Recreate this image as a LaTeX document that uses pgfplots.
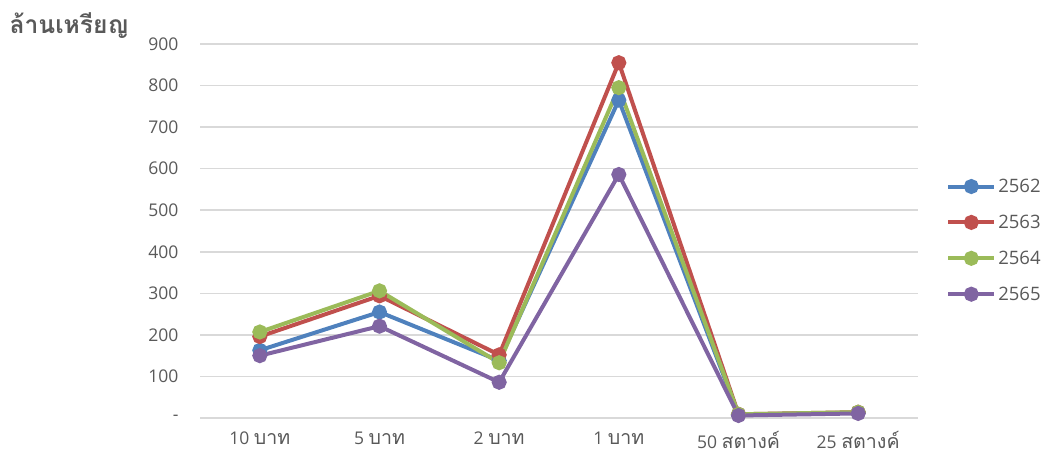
\documentclass[border=0pt]{standalone}
\usepackage{pgfplots}
\pgfplotsset{compat=1.18}
\usepackage{fontspec}
\setmainfont{Open Sans}
\newfontfamily\thaifont[Script=Thai,Scale=1.12]{Loma}
\definecolor{txt}{HTML}{595959}
\definecolor{gridc}{HTML}{D9D9D9}
\definecolor{c1}{HTML}{4F81BD}
\definecolor{c2}{HTML}{C0504D}
\definecolor{c3}{HTML}{9BBB59}
\definecolor{c4}{HTML}{8064A2}
\begin{document}
\begin{tikzpicture}
\useasboundingbox (0,0) rectangle (1053pt,456pt);
\node[anchor=west, text=txt, font=\fontsize{22pt}{26pt}\selectfont\thaifont\bfseries] at (6pt,430pt) {ล้านเหรียญ};
\begin{axis}[
  at={(200pt,38pt)}, anchor=south west,
  scale only axis, width=718pt, height=374pt,
  xmin=-0.5, xmax=5.5, ymin=0, ymax=900,
  xtick={0,1,2,3,4,5},
  xticklabels={{10 {\thaifont บาท}},{5 {\thaifont บาท}},{2 {\thaifont บาท}},{1 {\thaifont บาท}},{50 {\thaifont สตางค์}},{25 {\thaifont สตางค์}}},
  ytick={0,100,...,900},
  yticklabels={-,100,200,300,400,500,600,700,800,900},
  axis line style={draw=none},
  major tick length=0pt,
  ymajorgrids, xmajorgrids=false, grid style={draw=gridc, line width=1.5pt},
  tick label style={text=txt, font=\fontsize{17.5pt}{21pt}\selectfont},
  yticklabel style={xshift=-18pt},
  xticklabel style={yshift=-10pt},
  every axis plot/.append style={line width=4pt, mark=*, mark size=5.5pt},
  legend style={at={(1.035,0.475)}, anchor=west, draw=none, fill=none,
    font=\fontsize{18.5pt}{22pt}\selectfont, text=txt, row sep=17pt,
    /tikz/every even column/.append style={column sep=0pt}},
  legend cell align=left,
  legend image code/.code={\draw[mark repeat=2,mark phase=2] plot coordinates {(0pt,0pt) (23pt,0pt) (46pt,0pt)};},
]
\addplot[c1, mark options={fill=c1}] coordinates {(0,163) (1,255) (2,138) (3,765) (4,8) (5,13)};
\addlegendentry{2562}
\addplot[c2, mark options={fill=c2}] coordinates {(0,196) (1,294) (2,152) (3,855) (4,9) (5,14)};
\addlegendentry{2563}
\addplot[c3, mark options={fill=c3}] coordinates {(0,207) (1,306) (2,133) (3,795) (4,9) (5,14)};
\addlegendentry{2564}
\addplot[c4, mark options={fill=c4}] coordinates {(0,150) (1,221) (2,86) (3,586) (4,6) (5,11)};
\addlegendentry{2565}
\end{axis}
\end{tikzpicture}
\end{document}
